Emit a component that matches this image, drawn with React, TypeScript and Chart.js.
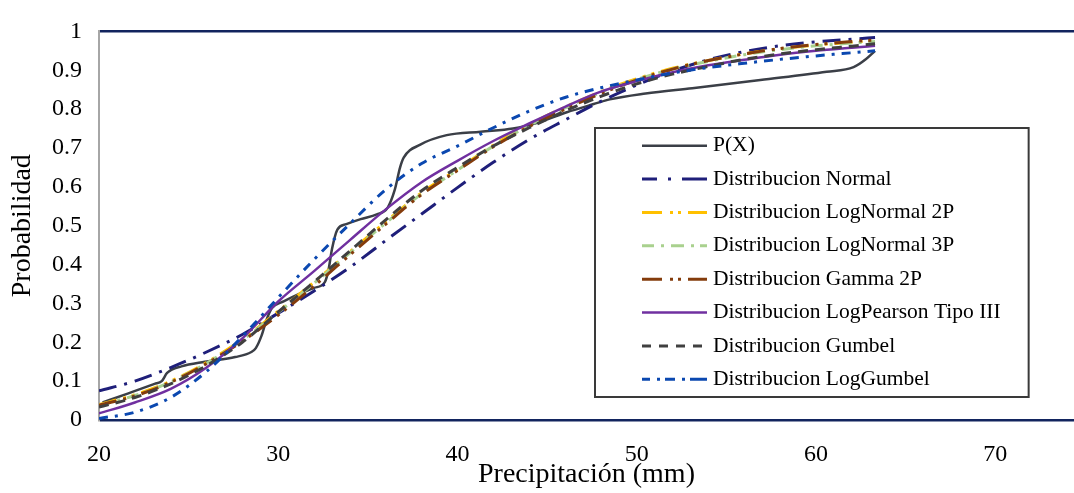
import React, { useEffect, useRef } from 'react';
import { Chart, registerables } from 'chart.js';

Chart.register(...registerables);

// ---------- data ----------
const xGrid = [20, 22, 24, 26, 28, 30, 32, 34, 36, 38, 40, 42, 44, 46, 48, 50, 52, 54, 56, 58, 60, 62, 63.3];

const normal = [0.075, 0.1, 0.135, 0.175, 0.22, 0.275, 0.332, 0.393, 0.462, 0.53, 0.598, 0.663, 0.722, 0.772, 0.82, 0.862, 0.898, 0.927, 0.948, 0.963, 0.973, 0.98, 0.984];
const logNormal2P = [0.04, 0.065, 0.1, 0.148, 0.208, 0.28, 0.355, 0.433, 0.51, 0.585, 0.645, 0.707, 0.76, 0.805, 0.845, 0.878, 0.905, 0.925, 0.942, 0.955, 0.965, 0.972, 0.976];
const logNormal3P = [0.038, 0.063, 0.098, 0.146, 0.206, 0.277, 0.352, 0.43, 0.507, 0.582, 0.643, 0.705, 0.758, 0.803, 0.843, 0.876, 0.903, 0.923, 0.94, 0.953, 0.963, 0.97, 0.974];
const gamma2P = [0.038, 0.062, 0.097, 0.145, 0.203, 0.27, 0.345, 0.425, 0.504, 0.58, 0.642, 0.703, 0.755, 0.8, 0.84, 0.875, 0.903, 0.925, 0.942, 0.956, 0.966, 0.974, 0.978];
const logPearson3 = [0.017, 0.045, 0.08, 0.135, 0.21, 0.305, 0.383, 0.463, 0.542, 0.612, 0.667, 0.718, 0.763, 0.806, 0.845, 0.872, 0.895, 0.913, 0.927, 0.94, 0.95, 0.958, 0.963];
const gumbel = [0.033, 0.058, 0.093, 0.14, 0.2, 0.278, 0.355, 0.435, 0.515, 0.59, 0.65, 0.705, 0.752, 0.795, 0.833, 0.865, 0.89, 0.91, 0.928, 0.942, 0.953, 0.962, 0.968];
const logGumbel = [0.004, 0.02, 0.058, 0.125, 0.215, 0.315, 0.413, 0.505, 0.593, 0.66, 0.705, 0.752, 0.795, 0.83, 0.855, 0.875, 0.893, 0.907, 0.918, 0.928, 0.937, 0.945, 0.95];

// empirical probability P(X)
const pxX = [20.2, 21.6, 23.1, 23.5, 23.8, 24.6, 25.9, 27.6, 28.5, 28.75, 29.07, 29.35, 29.65, 30.3, 31.2, 32.0, 32.6, 32.8, 33.0, 33.3, 33.8, 34.6, 35.5, 36.1, 36.5, 36.8, 37.0, 37.9, 39.4, 41.3, 43.1, 44.6, 46.1, 47.6, 48.5, 50.5, 53.1, 56.9, 60.6, 62.1, 62.8, 63.3];
const pxY = [0.045, 0.068, 0.093, 0.1, 0.121, 0.138, 0.15, 0.162, 0.175, 0.185, 0.217, 0.258, 0.288, 0.305, 0.325, 0.34, 0.355, 0.385, 0.44, 0.49, 0.504, 0.517, 0.529, 0.546, 0.592, 0.65, 0.675, 0.708, 0.733, 0.742, 0.75, 0.767, 0.792, 0.813, 0.825, 0.84, 0.854, 0.875, 0.896, 0.908, 0.929, 0.95];

const seriesNames = [
  'P(X)',
  'Distribucion Normal',
  'Distribucion LogNormal 2P',
  'Distribucion LogNormal 3P',
  'Distribucion Gamma 2P',
  'Distribucion LogPearson Tipo III',
  'Distribucion Gumbel',
  'Distribucion LogGumbel',
];
const xTickValues = [20, 30, 40, 50, 60, 70];
const xAxisTitle = 'Precipitación (mm)';
const yAxisTitle = 'Probabilidad';

// ---------- styles ----------
const FONT = '"Liberation Serif", "Times New Roman", serif';
const colors = ['#3b3f47', '#1f1f7a', '#ffc000', '#a9d18e', '#843c0c', '#7030a0', '#404040', '#0b48b0'];
const widths = [2.5, 3, 3, 3, 3, 2.5, 3, 3];
const chartDash: number[][] = [[], [18, 8, 3, 8], [18, 7, 3, 6, 3, 7], [12, 7, 3, 7], [18, 7, 3, 6, 3, 7], [], [10, 7], [9, 7, 3, 7]];
const legendDash: number[][] = [
  [],
  [15, 11, 3, 11, 25, 100],
  [20, 8, 3, 5, 3, 7, 19, 100],
  [12, 7, 3, 7, 13, 7, 3, 6, 7, 100],
  [20, 8, 3, 5, 3, 7, 19, 100],
  [],
  [9, 8],
  [8, 7, 3, 5, 10, 7, 3, 5, 17, 100],
];

function pts(xs: number[], ys: number[]) {
  return xs.map((x, i) => ({ x, y: ys[i] }));
}

const legendPlugin = {
  id: 'customLegend',
  afterDraw(chart: any) {
    const ctx = chart.ctx as CanvasRenderingContext2D;
    ctx.save();
    ctx.font = `21.5px ${FONT}`;
    const maxW = Math.max(...seriesNames.map((n) => ctx.measureText(n).width));
    const left = 595, top = 128, bottom = 397;
    const textX = 713;
    const right = textX + maxW + 28;
    ctx.fillStyle = '#ffffff';
    ctx.fillRect(left, top, right - left, bottom - top);
    ctx.strokeStyle = '#3a3a3a';
    ctx.lineWidth = 2;
    ctx.setLineDash([]);
    ctx.strokeRect(left, top, right - left, bottom - top);
    const rowH = (bottom - top - 2 * 17.7) / (seriesNames.length - 1);
    seriesNames.forEach((name, i) => {
      const y = top + 17.7 + i * rowH;
      ctx.beginPath();
      ctx.setLineDash(legendDash[i]);
      ctx.strokeStyle = colors[i];
      ctx.lineWidth = widths[i];
      ctx.moveTo(642, y);
      ctx.lineTo(707, y);
      ctx.stroke();
      ctx.setLineDash([]);
      ctx.fillStyle = '#000000';
      ctx.textBaseline = 'middle';
      ctx.textAlign = 'left';
      ctx.fillText(name, textX, y);
    });
    ctx.restore();
  },
};

export default function App() {
  const canvasRef = useRef<HTMLCanvasElement | null>(null);

  useEffect(() => {
    if (!canvasRef.current) return;
    const seriesY = [null, normal, logNormal2P, logNormal3P, gamma2P, logPearson3, gumbel, logGumbel];
    const datasets = seriesNames.map((name, i) => ({
      label: name,
      data: i === 0 ? pts(pxX, pxY) : pts(xGrid, seriesY[i] as number[]),
      borderColor: colors[i],
      backgroundColor: colors[i],
      borderWidth: widths[i],
      borderDash: chartDash[i],
      pointRadius: 0,
      fill: false,
      cubicInterpolationMode: 'monotone' as const,
      order: seriesNames.length - i,
    }));

    const chart = new Chart(canvasRef.current, {
      type: 'line',
      data: { datasets },
      options: {
        animation: false,
        responsive: false,
        devicePixelRatio: 1,
        layout: { padding: { top: 20, right: 0, left: 0, bottom: 0 } },
        plugins: { legend: { display: false }, tooltip: { enabled: false } },
        scales: {
          x: {
            type: 'linear',
            min: 20,
            max: 74.4,
            afterFit: (s: any) => { s.height = 73; },
            afterBuildTicks: (s: any) => { s.ticks = xTickValues.map((v) => ({ value: v })); },
            grid: { display: false },
            border: { display: false },
            ticks: { font: { family: FONT, size: 24 }, color: '#000', padding: 12, maxRotation: 0 },
            title: { display: true, text: xAxisTitle, font: { family: FONT, size: 28 }, color: '#000', padding: { top: 0, bottom: 2 } },
          },
          y: {
            type: 'linear',
            min: 0,
            max: 1,
            afterFit: (s: any) => { s.width = 99; },
            ticks: {
              stepSize: 0.1,
              font: { family: FONT, size: 24 },
              color: '#000',
              padding: 17,
              callback: (v: any) => String(Math.round(Number(v) * 10) / 10),
            },
            grid: {
              drawTicks: false,
              color: (c: any) => (c.tick && (Math.abs(c.tick.value) < 1e-6 || Math.abs(c.tick.value - 1) < 1e-6) ? '#12245e' : 'rgba(0,0,0,0)'),
              lineWidth: 2.5,
            },
            border: { display: true, color: '#a6a6a6', width: 2 },
            title: { display: true, text: yAxisTitle, font: { family: FONT, size: 28 }, color: '#000', padding: { top: 6, bottom: 0 } },
          },
        },
      },
      plugins: [legendPlugin],
    });
    return () => chart.destroy();
  }, []);

  return (
    <div style={{ position: 'fixed', left: 0, top: 0, width: 1074, height: 493, background: '#ffffff' }}>
      <canvas ref={canvasRef} width={1074} height={493} style={{ width: 1074, height: 493 }} />
    </div>
  );
}
